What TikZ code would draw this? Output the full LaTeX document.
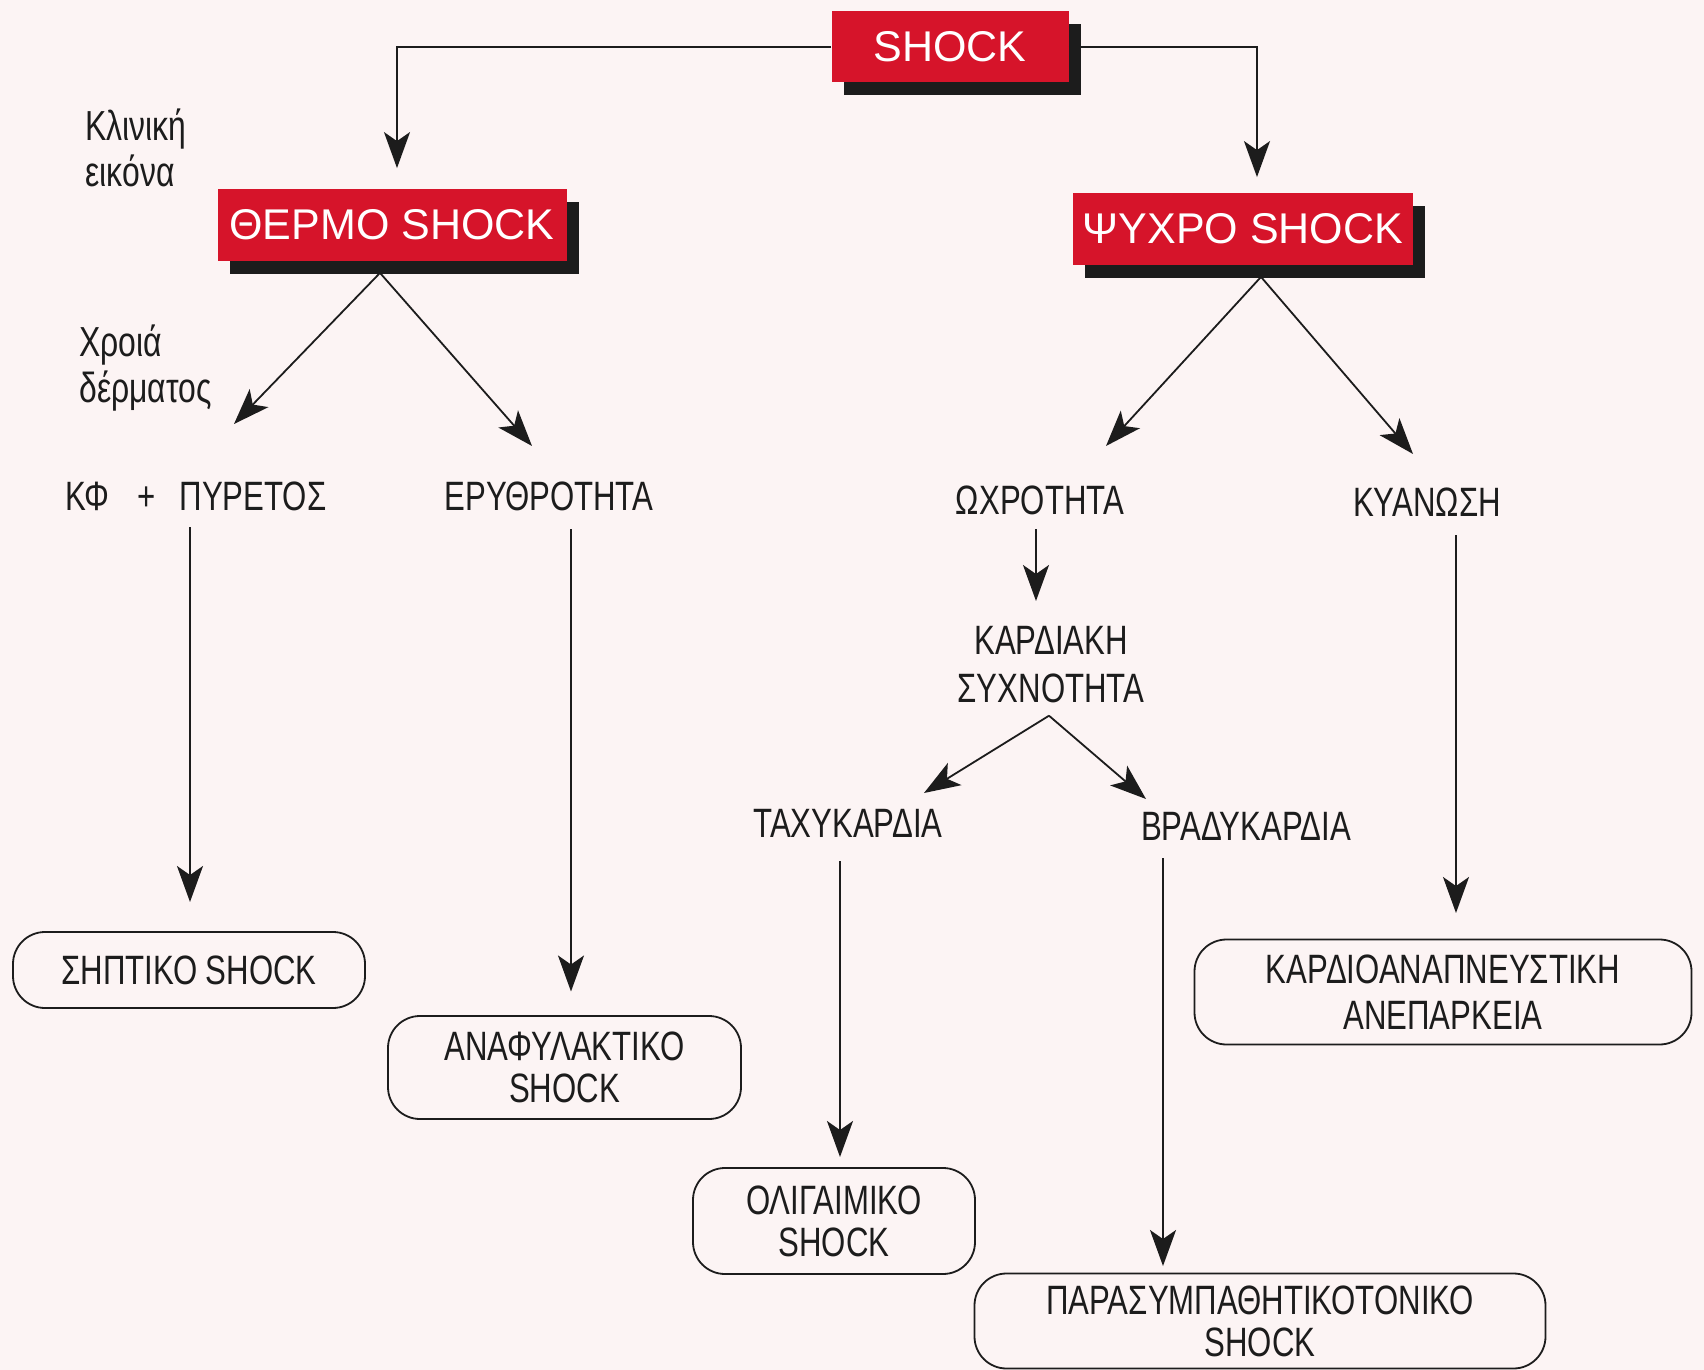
\documentclass[tikz,border=0pt]{standalone}
\usepackage{fontspec}
\setmainfont[FakeStretch=0.76]{Liberation Sans}
\newfontfamily\widefont{Liberation Sans}
\usetikzlibrary{arrows.meta,shadows}

\definecolor{shockred}{RGB}{214,20,42}
\definecolor{paper}{RGB}{252,244,244}
\definecolor{ink}{RGB}{28,28,28}

\tikzset{
  redbox/.style={fill=shockred, text=white, font=\widefont\fontsize{21.5}{24}\selectfont,
    minimum height=35.5pt, inner sep=0pt,
    drop shadow={shadow xshift=6pt, shadow yshift=-6.5pt, fill=ink, opacity=1}},
  roundbox/.style={draw=ink, line width=0.9pt, rounded corners=16pt, align=center,
    font=\fontsize{20.5}{21}\selectfont},
  arr/.style={draw=ink, line width=0.9pt, -{Stealth[length=18pt,width=13pt,inset=4.5pt]}},
}

\begin{document}
\begin{tikzpicture}[x=0.5pt, y=-0.5pt, inner sep=0pt, text=ink,
    font=\fontsize{20.5}{23}\selectfont]
  \fill[paper] (0,0) rectangle (1704,1370);
  \useasboundingbox (0,0) rectangle (1704,1370);

  % red headings
  \node[redbox, minimum width=118.5pt] (shock) at (950,47) {SHOCK};
  \node[redbox, minimum width=174.5pt] (thermo) at (392,225) {ΘΕΡΜΟ SHOCK};
  \node[redbox, minimum width=170pt] (psychro) at (1243,229) {ΨΥΧΡΟ SHOCK};

  % side notes
  \node[anchor=west, align=left, font=\fontsize{21}{23}\selectfont] (clinic) at (85,148) {Κλινική\\εικόνα};
  \node[anchor=west, align=left, font=\fontsize{21}{23}\selectfont] (skin) at (79,368) {Χροιά\\δέρματος};

  % findings
  \node (kf) at (196,496) {ΚΦ\hspace{14pt}+\hspace{12pt}ΠΥΡΕΤΟΣ};
  \node (ery) at (549,496) {ΕΡΥΘΡΟΤΗΤΑ};
  \node (ochr) at (1040,500) {ΩΧΡΟΤΗΤΑ};
  \node (kyan) at (1427,502) {ΚΥΑΝΩΣΗ};
  \node[align=center, font=\fontsize{20.5}{24}\selectfont] (freq) at (1051,665) {ΚΑΡΔΙΑΚΗ\\ΣΥΧΝΟΤΗΤΑ};
  \node (tachy) at (848,823) {ΤΑΧΥΚΑΡΔΙΑ};
  \node (brady) at (1246,826) {ΒΡΑΔΥΚΑΡΔΙΑ};

  % outcomes
  \node[roundbox, minimum width=176pt, minimum height=38pt] (septic) at (189,970) {ΣΗΠΤΙΚΟ SHOCK};
  \node[roundbox, minimum width=176.5pt, minimum height=51.5pt] (anaph) at (564.5,1067.5) {ΑΝΑΦΥΛΑΚΤΙΚΟ\\SHOCK};
  \node[roundbox, minimum width=141pt, minimum height=53pt] (olig) at (834,1221) {ΟΛΙΓΑΙΜΙΚΟ\\SHOCK};
  \node[roundbox, minimum width=285.5pt, minimum height=47.5pt] (paras) at (1260,1321) {ΠΑΡΑΣΥΜΠΑΘΗΤΙΚΟΤΟΝΙΚΟ\\SHOCK};
  \node[roundbox, minimum width=248.5pt, minimum height=52.5pt,
    font=\fontsize{20.5}{23}\selectfont] (cardio) at (1443,992) {ΚΑΡΔΙΟΑΝΑΠΝΕΥΣΤΙΚΗ\\ΑΝΕΠΑΡΚΕΙΑ};

  % forks and arrow ends
  \coordinate (thermofork) at ([xshift=-6pt,yshift=-6pt]thermo.south);
  \coordinate (psychrofork) at ([xshift=9pt,yshift=-6pt]psychro.south);
  \coordinate (freqfork) at ([xshift=-1pt,yshift=-6pt]freq.south);
  \coordinate (kftip) at (234,424);
  \coordinate (erytip) at (532,446);
  \coordinate (ochrtip) at (1106,446);
  \coordinate (kyantip) at (1413,454);
  \coordinate (tachytip) at (924,793);
  \coordinate (bradytip) at (1146,799);
  \coordinate (kffoot) at ([xshift=-3pt]kf.center);
  \coordinate (eryfoot) at ([xshift=11pt]ery.center);
  \coordinate (ochrfoot) at ([xshift=-2pt]ochr.center);
  \coordinate (tachyfoot) at ([xshift=-4pt]tachy.center);
  \coordinate (bradyfoot) at ([xshift=-41.5pt]brady.center);
  \coordinate (kyanfoot) at ([xshift=14.5pt]kyan.center);

  % connectors
  \draw[arr, shorten >=10.5pt] (shock.west) -| ([xshift=2.5pt]thermo.north);
  \draw[arr, shorten >=8pt] (shock.east) -| ([xshift=7pt]psychro.north);
  \draw[arr] (thermofork) -- (kftip);
  \draw[arr] (thermofork) -- (erytip);
  \draw[arr] (psychrofork) -- (ochrtip);
  \draw[arr] (psychrofork) -- (kyantip);
  \draw[arr] (freqfork) -- (tachytip);
  \draw[arr] (freqfork) -- (bradytip);
  \draw[arr, shorten <=15.5pt, shorten >=34pt] (kffoot) -- (kffoot |- septic.center);
  \draw[arr, shorten <=16.5pt, shorten >=38pt] (eryfoot) -- (eryfoot |- anaph.center);
  \draw[arr, shorten <=14.5pt, shorten >=32pt] (ochrfoot) -- (ochrfoot |- freq.center);
  \draw[arr, shorten <=19pt, shorten >=32pt] (tachyfoot) -- (tachyfoot |- olig.center);
  \draw[arr, shorten <=16pt, shorten >=27.5pt] (bradyfoot) -- (bradyfoot |- paras.center);
  \draw[arr, shorten <=16.5pt, shorten >=39.5pt] (kyanfoot) -- (kyanfoot |- cardio.center);
\end{tikzpicture}
\end{document}
